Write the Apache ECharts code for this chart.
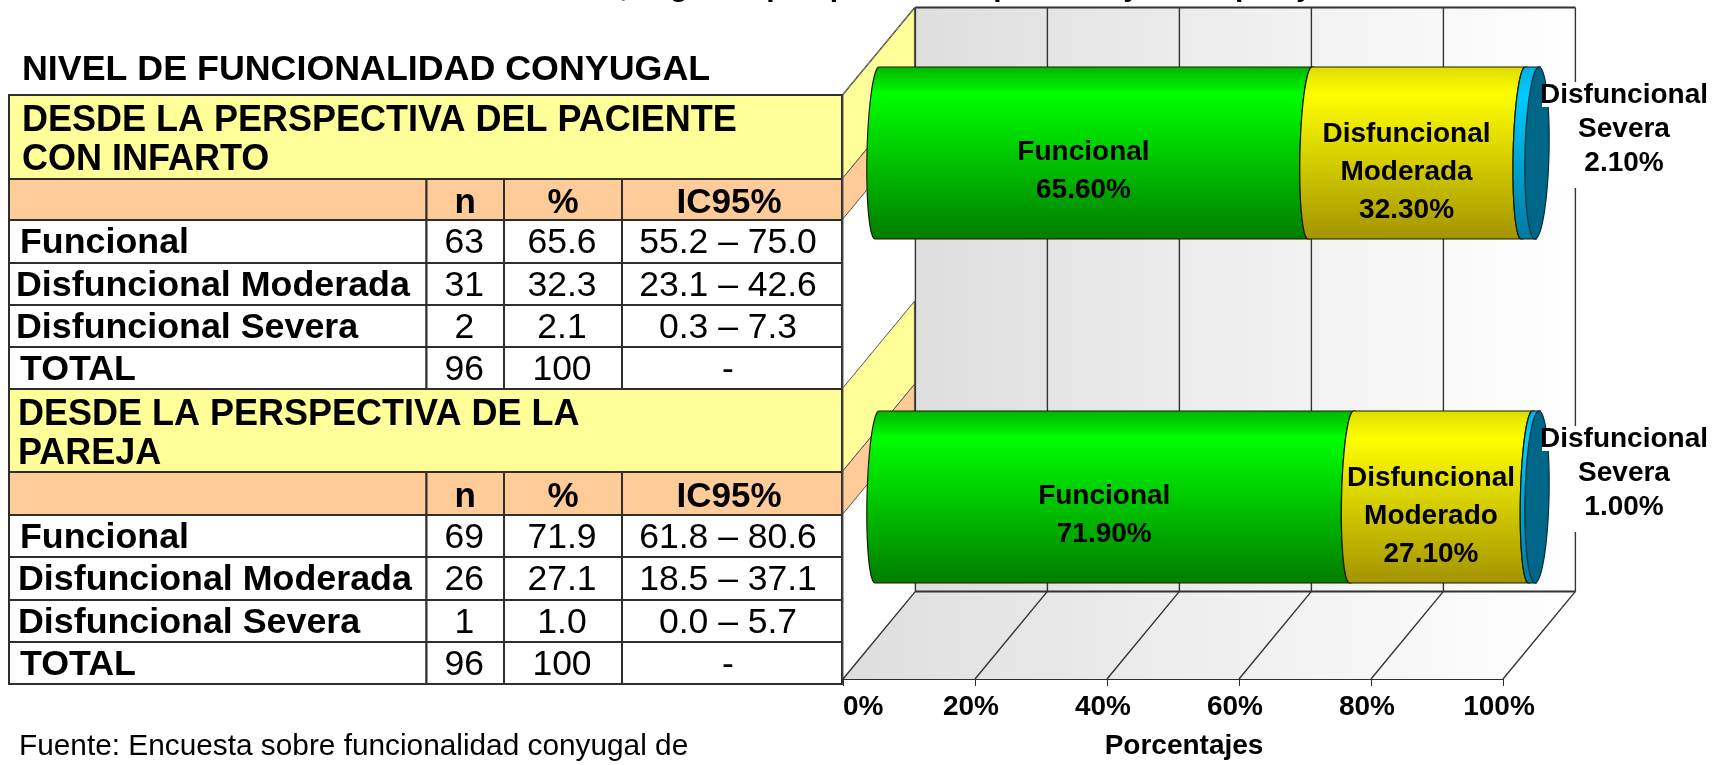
<!DOCTYPE html>
<html>
<head>
<meta charset="utf-8">
<style>html,body{margin:0;padding:0;background:#fff}#c{width:1726px;height:765px}</style>
<script src="https://cdn.jsdelivr.net/npm/echarts@6/dist/echarts.min.js"></script>
</head>
<body>
<div id="c"></div>
<script>
// ---- data ----
const perspectivas = ['Paciente', 'Pareja'];
const funcional = [65.6, 71.9];
const moderada = [32.3, 27.1];
const severa = [2.1, 1.0];
const etiquetasFuncional = ['Funcional', 'Funcional'];
const etiquetasModerada = ['Disfuncional\nModerada', 'Disfuncional\nModerado'];
const etiquetasSevera = ['Disfuncional\nSevera', 'Disfuncional\nSevera'];
const ticksX = [0, 20, 40, 60, 80, 100];
const tituloCortado = 'NIVEL DE FUNCIONALIDAD CONYUGAL, según la perspectiva del paciente y de su pareja';
const titulo = 'NIVEL DE FUNCIONALIDAD CONYUGAL';
const encabezadoPaciente = 'DESDE LA PERSPECTIVA DEL PACIENTE\nCON INFARTO';
const encabezadoPareja = 'DESDE LA PERSPECTIVA DE LA\nPAREJA';
const columnas = ['n', '%', 'IC95%'];
const nombresFila = ['Funcional', 'Disfuncional Moderada', 'Disfuncional Severa', 'TOTAL'];
const filasPaciente = [['63', '65.6', '55.2 – 75.0'], ['31', '32.3', '23.1 – 42.6'], ['2', '2.1', '0.3 – 7.3'], ['96', '100', '-']];
const filasPareja = [['69', '71.9', '61.8 – 80.6'], ['26', '27.1', '18.5 – 37.1'], ['1', '1.0', '0.0 – 5.7'], ['96', '100', '-']];
const fuente = 'Fuente: Encuesta sobre funcionalidad conyugal de';

// ---- layout / style ----
const FONT = '"Liberation Sans", Arial, sans-serif';
const LINE = '#2e2e2e';
const DX = 72.4, DY = -87.6;        // 3D depth of the frame
const HALF = 86, RX = 10, SKEW = 2; // cylinder shape
const colX = [9, 426.5, 504, 622, 842];
const textX = [[20, 16, 16, 20], [20, 18, 18, 20]];
const tablas = [
  { head: encabezadoPaciente, rows: filasPaciente, y: [95, 179, 220, 263, 305, 347, 389], hx: 22 },
  { head: encabezadoPareja, rows: filasPareja, y: [389, 472, 515, 557, 600, 642, 684], hx: 18 }
];
const stops = {
  green: ['#00b400', '#00ff00', '#007c00'],
  yellow: ['#dcdc00', '#ffff00', '#a39300'],
  blue: ['#00b0e0', '#00ccff', '#0078a0']
};

const graphics = [];
function rect(x, y, w, h, fill) {
  graphics.push({ type: 'rect', z: 0, shape: { x, y, width: w, height: h },
    style: { fill: fill, stroke: LINE, lineWidth: 2 } });
}
function text(x, y, t, size, bold, align) {
  graphics.push({ type: 'text', z: 1, x, y, style: { text: t, fill: '#000', align: align || 'left', verticalAlign: 'middle',
    font: (bold ? 'bold ' : '') + size + 'px ' + FONT, lineHeight: 39 } });
}
function slanted(y0, y1, fill) {
  graphics.push({ type: 'polygon', z: 0, shape: { points: [[842, y0], [842 + DX, y0 + DY], [842 + DX, y1 + DY], [842, y1]] },
    style: { fill: fill, stroke: '#555', lineWidth: 1 } });
}
text(43, -12, tituloCortado, 30, true);
text(22, 70, titulo, 35.8, true);
text(19, 747, fuente, 29.8, false);
tablas.forEach(function (t, ti) {
  const y = t.y;
  slanted(y[0], y[1], '#ffff99');
  slanted(y[1], y[2], '#ffcc99');
  rect(colX[0], y[0], colX[4] - colX[0], y[1] - y[0], '#ffff99');
  text(t.hx, (y[0] + y[1]) / 2 + 4, t.head, 36, true);
  [0, 1, 2, 3].forEach(function (c) {
    rect(colX[c], y[1], colX[c + 1] - colX[c], y[2] - y[1], '#ffcc99');
    if (c > 0) text((colX[c] + colX[c + 1]) / 2 - (c === 3 ? 3 : 0), (y[1] + y[2]) / 2 + 4, columnas[c - 1], 35, true, 'center');
  });
  t.rows.forEach(function (row, r) {
    const y0 = y[r + 2], y1 = y[r + 3];
    rect(colX[0], y0, colX[1] - colX[0], y1 - y0, '#fff');
    text(textX[ti][r], (y0 + y1) / 2 + 2, nombresFila[r], 35.8, true);
    row.forEach(function (v, i) {
      rect(colX[i + 1], y0, colX[i + 2] - colX[i + 1], y1 - y0, '#fff');
      text((colX[i + 1] + colX[i + 2]) / 2 - (i === 2 ? 4 : 1), (y0 + y1) / 2 + 2, v, 35.5, false, 'center');
    });
  });
});

function vGrad(c) {
  return new echarts.graphic.LinearGradient(0, 0, 0, 1, [
    { offset: 0, color: c[0] }, { offset: 0.16, color: c[1] }, { offset: 1, color: c[2] }]);
}
function edge(x, y, rx, from, to, n) {
  const pts = [];
  for (let i = 0; i <= n; i++) {
    const a = from + (to - from) * i / n;
    pts.push([x - SKEW - SKEW * Math.sin(a) + rx * Math.cos(a), y + HALF * Math.sin(a)]);
  }
  return pts;
}
function segmentSeries(name, start, values, labels, colors, isLast) {
  const data = values.map(function (v, i) { return [i, start[i], start[i] + v, v]; });
  return {
    name, type: 'custom', xAxisIndex: 1, yAxisIndex: 1, z: 3, clip: false,
    encode: { x: [1, 2], y: 0 }, data,
    renderItem: function (params, api) {
      const i = api.value(0), v = api.value(3);
      const a = api.coord([api.value(1), i]), b = api.coord([api.value(2), i]);
      const y = a[1];
      // right edge runs top to bottom, left edge bottom to top, both bulging left
      const pts = [[a[0], y - HALF]].concat(
        edge(b[0], y, -RX, -Math.PI / 2, Math.PI / 2, 30),
        edge(a[0], y, -RX, Math.PI / 2, -Math.PI / 2, 30));
      const children = [{ type: 'polygon', shape: { points: pts },
        style: { fill: vGrad(colors), stroke: '#1a1a00', lineWidth: 1.2 } }];
      const label = labels[i] + '\n' + v.toFixed(2) + '%';
      if (isLast) {
        children.push({ type: 'polygon', shape: { points: edge(b[0], y, 12, 0, Math.PI * 2, 72) },
          style: { fill: '#006688', stroke: '#00303f', lineWidth: 1.2 } });
        const ly = y - 71;
        children.push({ type: 'rect', z2: 8, shape: { x: b[0] + 13, y: ly, width: 158, height: 106 }, style: { fill: '#fff' } });
        children.push({ type: 'rect', z2: 8, shape: { x: b[0] + 3, y: ly + 3, width: 12, height: 22 }, style: { fill: '#fff' } });
        children.push({ type: 'text', z2: 10, x: b[0] + 85, y: y - 24, style: { text: label, fill: '#000',
          align: 'center', verticalAlign: 'middle', font: 'bold 28px ' + FONT, lineHeight: 34 } });
      } else {
        children.push({ type: 'text', z2: 10, x: (a[0] + b[0]) / 2 - 12, y: y + (labels[i].indexOf('\n') >= 0 ? 19 : 18), style: { text: label, fill: '#000',
          align: 'center', verticalAlign: 'middle', font: 'bold 28px ' + FONT, lineHeight: 38 } });
      }
      return { type: 'group', children };
    }
  };
}

const cumModerada = funcional.slice();
const cumSevera = funcional.map(function (v, i) { return v + moderada[i]; });
const cero = funcional.map(function () { return 0; });

const option = {
  animation: false,
  backgroundColor: '#fff',
  graphic: { elements: graphics },
  grid: [
    { left: 843, top: 95, width: 660, height: 589 },
    { left: 879, top: 153, width: 660, height: 344 }
  ],
  xAxis: [
    { type: 'value', gridIndex: 0, min: 0, max: 100, interval: 20, splitLine: { show: false },
      name: 'Porcentajes', nameLocation: 'middle', nameGap: 53,
      nameTextStyle: { color: '#000', fontFamily: FONT, fontWeight: 'bold', fontSize: 28, padding: [0, 0, 0, 22] },
      axisLine: { show: true, lineStyle: { color: LINE, width: 2 } },
      axisTick: { show: true, length: 7, lineStyle: { color: LINE, width: 1 } },
      axisLabel: { color: '#000', fontFamily: FONT, fontWeight: 'bold', fontSize: 28, margin: 14, alignMinLabel: 'left',
        padding: [0, 8, 0, 0], formatter: '{value}%' } },
    { type: 'value', gridIndex: 1, min: 0, max: 100, show: false }
  ],
  yAxis: [
    { type: 'value', gridIndex: 0, min: 0, max: 1, show: false },
    { type: 'category', gridIndex: 1, data: perspectivas, inverse: true, boundaryGap: false, show: false }
  ],
  series: [
    { name: 'planos', type: 'custom', xAxisIndex: 0, yAxisIndex: 0, z: 1, clip: false, silent: true,
      data: [[0]], encode: { x: 0 },
      renderItem: function (p, api) {
        const a = api.coord([0, 0]), b = api.coord([100, 0]), t = api.coord([0, 1]);
        const grad = new echarts.graphic.LinearGradient(0, 0, 1, 0, [
          { offset: 0, color: '#dedede' }, { offset: 1, color: '#ffffff' }]);
        return { type: 'group', children: [
          { type: 'polygon', shape: { points: [[a[0] + DX, t[1] + DY], [b[0] + DX, t[1] + DY], [b[0] + DX, a[1] + DY], [a[0] + DX, a[1] + DY]] },
            style: { fill: grad } },
          { type: 'polygon', shape: { points: [[a[0], a[1]], [b[0], a[1]], [b[0] + DX, a[1] + DY], [a[0] + DX, a[1] + DY]] },
            style: { fill: grad } },
          { type: 'line', shape: { x1: a[0] + DX, y1: t[1] + DY, x2: b[0] + DX, y2: t[1] + DY }, style: { stroke: '#333', lineWidth: 2 } },
          { type: 'line', shape: { x1: a[0] + DX, y1: a[1] + DY, x2: b[0] + DX, y2: a[1] + DY }, style: { stroke: '#333', lineWidth: 2 } },
          { type: 'line', shape: { x1: a[0], y1: t[1], x2: a[0] + DX, y2: t[1] + DY }, style: { stroke: '#555', lineWidth: 1 } },
          { type: 'line', shape: { x1: a[0], y1: a[1], x2: a[0], y2: t[1] }, style: { stroke: '#555', lineWidth: 1 } }
        ] };
      } },
    { name: 'rejilla', type: 'custom', xAxisIndex: 0, yAxisIndex: 0, z: 2, clip: false, silent: true,
      data: ticksX.map(function (v) { return [v]; }), encode: { x: 0 },
      renderItem: function (p, api) {
        const a = api.coord([api.value(0), 0]), t = api.coord([api.value(0), 1]);
        return { type: 'group', children: [
          { type: 'line', shape: { x1: a[0], y1: a[1], x2: a[0] + DX, y2: a[1] + DY }, style: { stroke: '#333', lineWidth: 1.4 } },
          { type: 'line', shape: { x1: a[0] + DX, y1: a[1] + DY, x2: t[0] + DX, y2: t[1] + DY }, style: { stroke: '#333', lineWidth: 1.4 } }
        ] };
      } },
    segmentSeries('Funcional', cero, funcional, etiquetasFuncional, stops.green, false),
    segmentSeries('Disfuncional Moderada', cumModerada, moderada, etiquetasModerada, stops.yellow, false),
    segmentSeries('Disfuncional Severa', cumSevera, severa, etiquetasSevera, stops.blue, true)
  ]
};
const chart = echarts.init(document.getElementById('c'), null, { renderer: 'canvas' });
chart.setOption(option);
</script>
</body>
</html>
